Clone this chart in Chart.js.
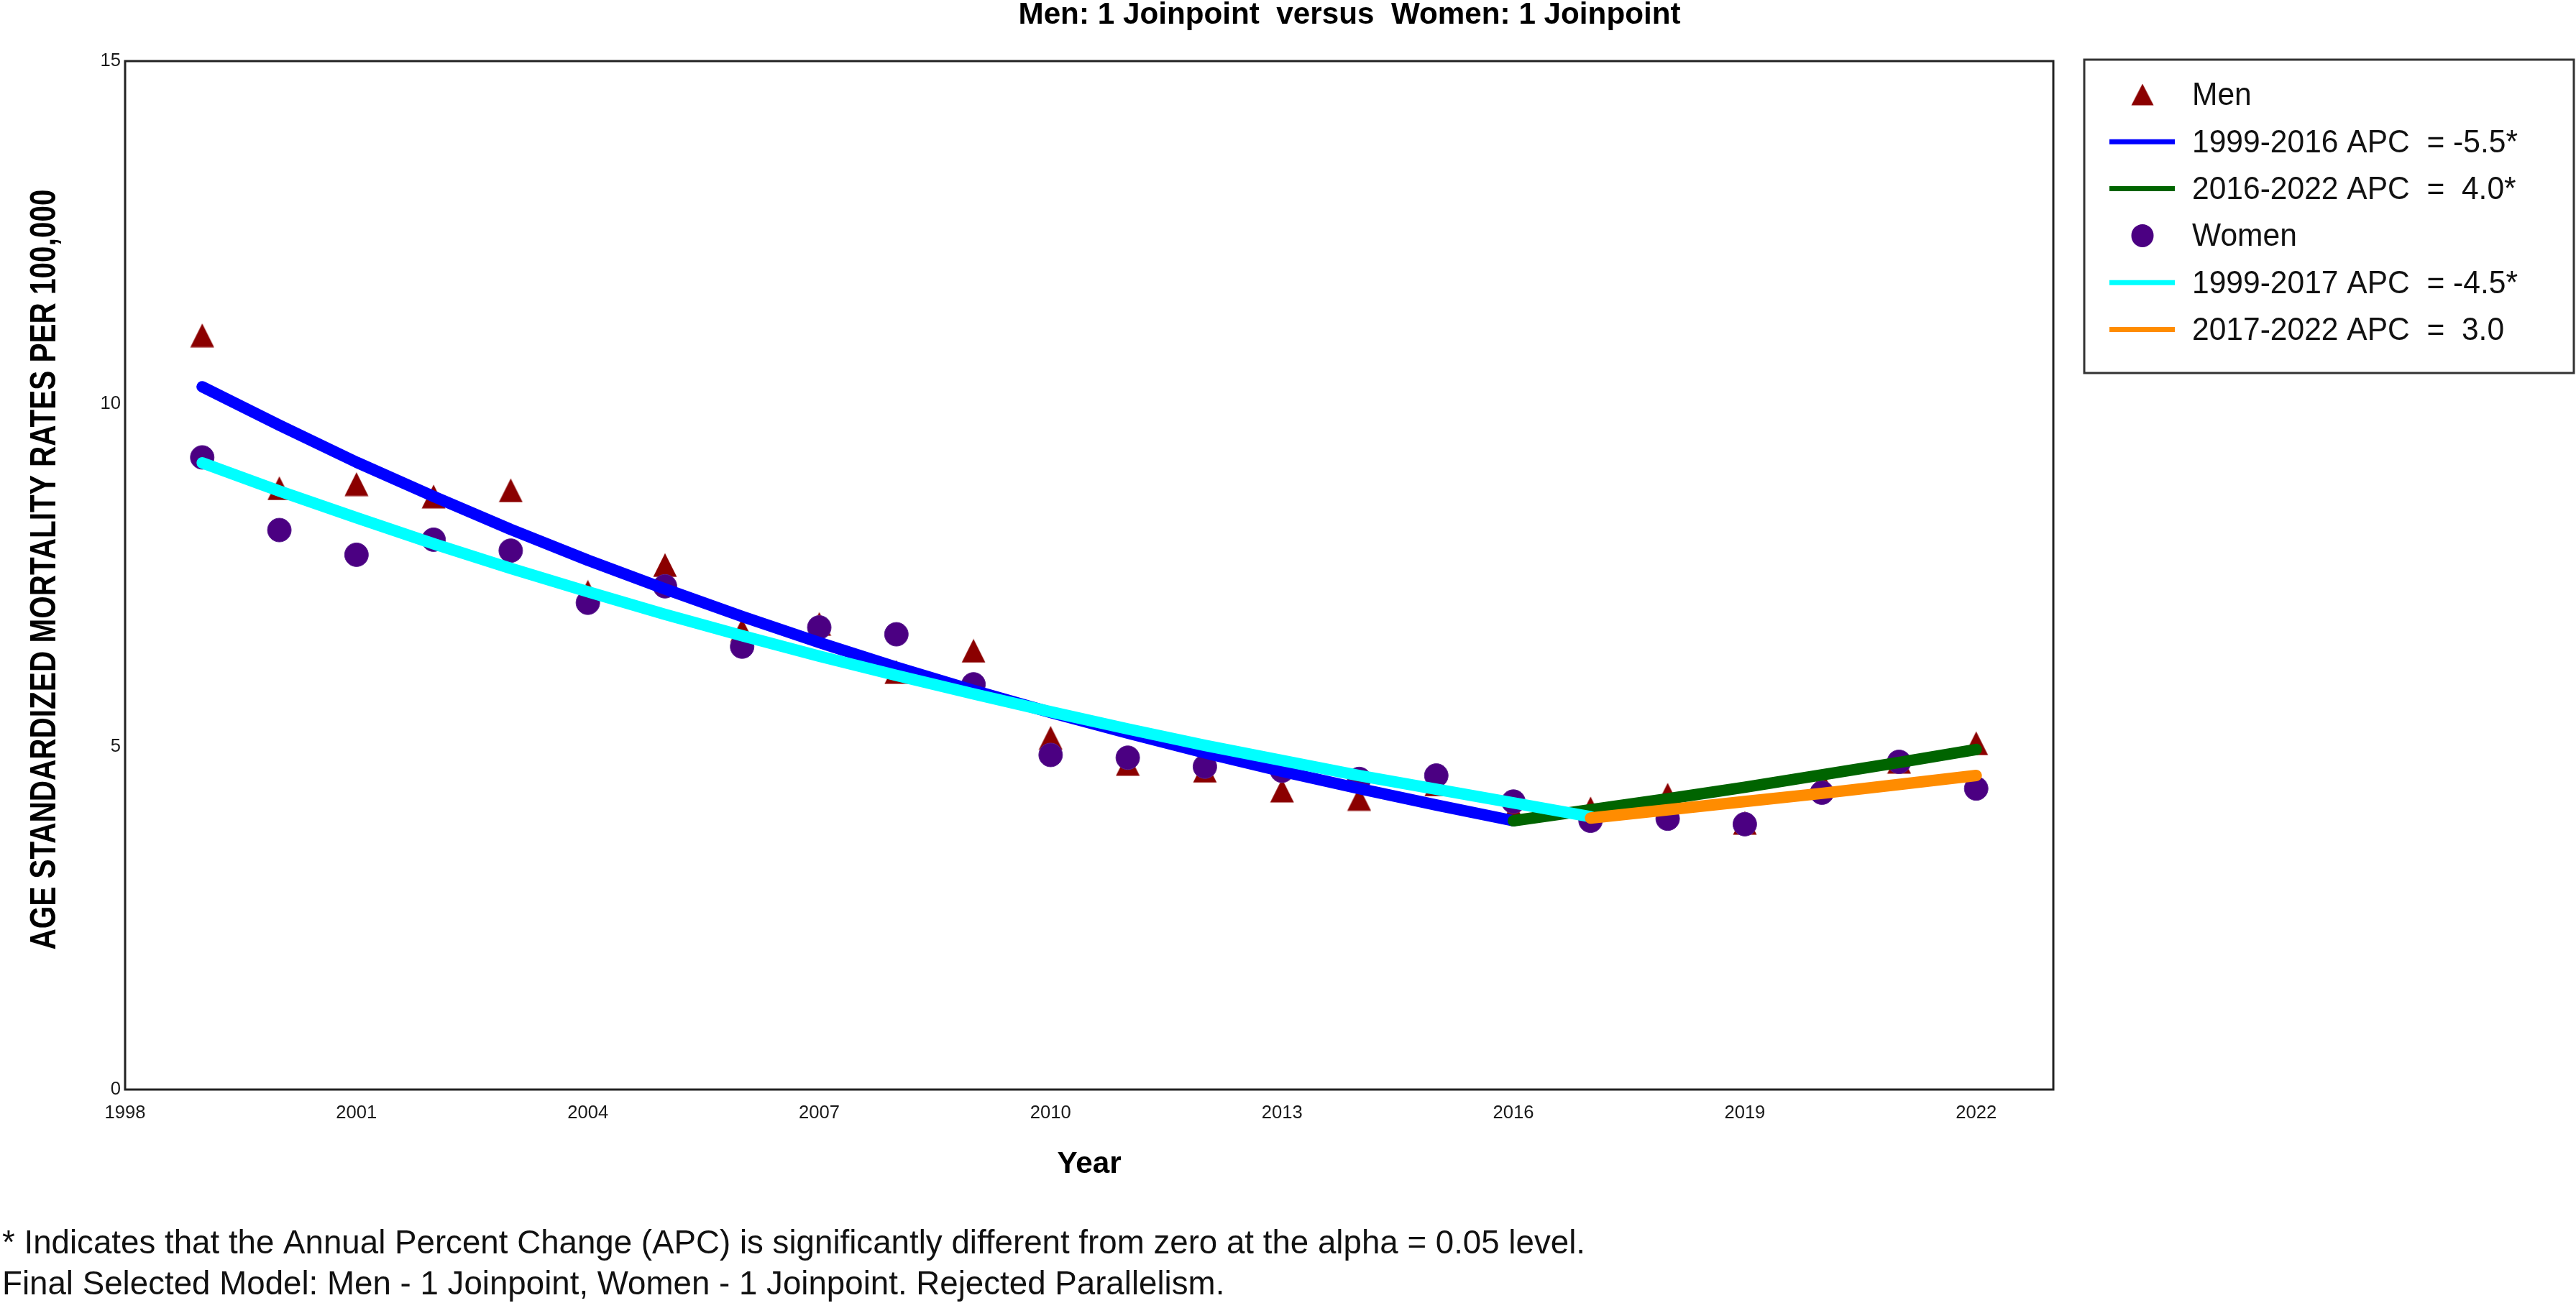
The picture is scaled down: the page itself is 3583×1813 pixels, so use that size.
<!DOCTYPE html>
<html>
<head>
<meta charset="utf-8">
<script src="https://cdn.jsdelivr.net/npm/chart.js@4.4.1/dist/chart.umd.min.js"></script>
<style>
html,body{margin:0;padding:0;background:#ffffff;overflow:hidden}
#wrap{width:3583px;height:1813px;position:relative;background:#fff}
</style>
</head>
<body>
<div id="wrap"><canvas id="c" width="3583" height="1813" style="width:3583px;height:1813px"></canvas></div>
<script>
// ---------------- data ----------------
const years = [1999,2000,2001,2002,2003,2004,2005,2006,2007,2008,2009,2010,2011,2012,2013,2014,2015,2016,2017,2018,2019,2020,2021,2022];
const menRates   = [11.00,8.77,8.83,8.65,8.74,7.26,7.65,6.70,6.79,6.09,6.40,5.13,4.75,4.65,4.36,4.24,4.45,4.05,4.10,4.30,3.89,4.49,4.78,5.05];
const womenRates = [9.22,8.16,7.80,8.02,7.86,7.10,7.34,6.46,6.74,6.64,5.91,4.88,4.84,4.71,4.65,4.53,4.58,4.20,3.92,3.95,3.87,4.33,4.78,4.39];

const menSeg1Years = [1999,2000,2001,2002,2003,2004,2005,2006,2007,2008,2009,2010,2011,2012,2013,2014,2015,2016];
const menSeg1Fit   = [10.25,9.69,9.15,8.65,8.17,7.72,7.30,6.90,6.52,6.16,5.82,5.50,5.20,4.91,4.64,4.39,4.15,3.92];
const menSeg2Years = [2016,2017,2018,2019,2020,2021,2022];
const menSeg2Fit   = [3.92,4.08,4.24,4.41,4.59,4.77,4.96];
const womenSeg1Years = [1999,2000,2001,2002,2003,2004,2005,2006,2007,2008,2009,2010,2011,2012,2013,2014,2015,2016,2017];
const womenSeg1Fit   = [9.14,8.73,8.34,7.96,7.60,7.26,6.93,6.62,6.32,6.04,5.77,5.51,5.26,5.02,4.80,4.58,4.38,4.18,3.98];
const womenSeg2Years = [2017,2018,2019,2020,2021,2022];
const womenSeg2Fit   = [3.96,4.08,4.20,4.32,4.45,4.58];

const seriesLabels = ['Men','1999-2016 APC  = -5.5*','2016-2022 APC  =  4.0*','Women','1999-2017 APC  = -4.5*','2017-2022 APC  =  3.0'];
const xTickValues = [1998,2001,2004,2007,2010,2013,2016,2019,2022];
const yTickValues = [0,5,10,15];
const titleText = 'Men: 1 Joinpoint  versus  Women: 1 Joinpoint';
const xAxisTitle = 'Year';
const yAxisTitle = 'AGE STANDARDIZED MORTALITY RATES PER 100,000';
const footnoteLines = [
  '* Indicates that the Annual Percent Change (APC) is significantly different from zero at the alpha = 0.05 level.',
  'Final Selected Model: Men - 1 Joinpoint, Women - 1 Joinpoint. Rejected Parallelism.'
];

// ---------------- fonts ----------------
const FAM = '"Liberation Sans", Arial, sans-serif';
const mctx = document.createElement('canvas').getContext('2d');
function fitSize(text, width, weight){
  mctx.font = (weight||'normal')+' 100px '+FAM;
  return 100*width/mctx.measureText(text).width;
}
function squeeze(text, size, width, weight){
  mctx.font = (weight||'normal')+' '+size+'px '+FAM;
  return Math.min(1, width/mctx.measureText(text).width);
}
const tickSize   = fitSize('1998', 57, 'normal');
const titleSize  = fitSize(titleText, 921, 'bold');
const legendSize = 45, legendSx = squeeze(seriesLabels[1], legendSize, 453, 'normal');
const footSize   = 47, footSx   = squeeze(footnoteLines[0], footSize, 2202, 'normal');
const ySize      = 50, ySx      = squeeze(yAxisTitle, ySize, 1058, 'bold');

function drawText(ctx, text, x, y, sx, rot){
  ctx.save(); ctx.translate(x, y); if (rot) ctx.rotate(rot); ctx.scale(sx, 1);
  ctx.fillText(text, 0, 0); ctx.restore();
}

// ---------------- marker images ----------------
const triImg = document.createElement('canvas');
triImg.width = 34; triImg.height = 34;
(function(){
  const c = triImg.getContext('2d');
  c.fillStyle = '#8B0000';
  c.beginPath(); c.moveTo(17,0.5); c.lineTo(33.5,33.5); c.lineTo(0.5,33.5); c.closePath(); c.fill();
})();

const pts = (xs, ys) => xs.map((x,i)=>({x:x, y:ys[i]}));

const lineStyle = (color, order) => ({
  showLine:true, pointRadius:0, borderWidth:16, borderColor:color, backgroundColor:color,
  borderCapStyle:'round', borderJoinStyle:'round', fill:false, tension:0, order:order
});

const datasets = [
  Object.assign({label:seriesLabels[0], data:pts(years,menRates), pointStyle:triImg, pointRadius:17,
    backgroundColor:'#8B0000', borderColor:'#8B0000', showLine:false, order:5}),
  Object.assign({label:seriesLabels[1], data:pts(menSeg1Years,menSeg1Fit)}, lineStyle('#0000FF',3)),
  Object.assign({label:seriesLabels[2], data:pts(menSeg2Years,menSeg2Fit)}, lineStyle('#006400',2)),
  Object.assign({label:seriesLabels[3], data:pts(years,womenRates), pointStyle:'circle', pointRadius:16.5,
    backgroundColor:'#4B0082', borderColor:'#5B2090', borderWidth:1, showLine:false, order:4}),
  Object.assign({label:seriesLabels[4], data:pts(womenSeg1Years,womenSeg1Fit)}, lineStyle('#00FFFF',1)),
  Object.assign({label:seriesLabels[5], data:pts(womenSeg2Years,womenSeg2Fit)}, lineStyle('#FF8C00',0))
];

// ---------------- decorations plugin: frame, title, legend, y title, footnotes ----------------
const deco = {
  id:'deco',
  afterDraw(chart){
    const ctx = chart.ctx, a = chart.chartArea;
    ctx.save();
    // plot frame
    ctx.strokeStyle = '#222'; ctx.lineWidth = 3;
    ctx.strokeRect(a.left, a.top, a.right - a.left, a.bottom - a.top);

    // legend box
    const L = a.right + 43, T = a.top - 2, W = 681, H = 436;
    ctx.strokeStyle = '#333'; ctx.lineWidth = 3;
    ctx.strokeRect(L, T, W, H);
    ctx.font = legendSize + 'px ' + FAM;
    ctx.textAlign = 'left'; ctx.textBaseline = 'middle';
    chart.data.datasets.forEach((ds, i) => {
      const cy = T + 49 + i * 65.3;
      const cx = L + 81;
      if (ds.showLine) {
        ctx.strokeStyle = ds.borderColor; ctx.lineWidth = 7; ctx.lineCap = 'butt';
        ctx.beginPath(); ctx.moveTo(L + 35, cy); ctx.lineTo(L + 126, cy); ctx.stroke();
      } else if (ds.pointStyle === 'circle') {
        ctx.fillStyle = ds.backgroundColor;
        ctx.beginPath(); ctx.ellipse(cx, cy, 15.5, 16, 0, 0, Math.PI*2); ctx.fill();
      } else {
        ctx.drawImage(ds.pointStyle, cx - 16, cy - 16, 32, 31);
      }
      ctx.fillStyle = '#111';
      drawText(ctx, ds.label, L + 150, cy + 2, legendSx);
    });

    // main title
    ctx.fillStyle = '#000';
    ctx.font = 'bold ' + titleSize.toFixed(2) + 'px ' + FAM;
    ctx.textAlign = 'center'; ctx.textBaseline = 'alphabetic';
    ctx.fillText(titleText, (a.left + L + W) / 2, 33);

    // y axis title (rotated)
    ctx.font = 'bold ' + ySize + 'px ' + FAM;
    ctx.textAlign = 'center'; ctx.textBaseline = 'middle';
    drawText(ctx, yAxisTitle, 63, (a.top + a.bottom) / 2 - 8, ySx, -Math.PI / 2);

    // footnotes
    ctx.font = footSize + 'px ' + FAM;
    ctx.textAlign = 'left'; ctx.textBaseline = 'alphabetic';
    ctx.fillStyle = '#111';
    drawText(ctx, footnoteLines[0], 3, 1744, footSx);
    drawText(ctx, footnoteLines[1], 3, 1801, footSx);
    ctx.restore();
  }
};

new Chart(document.getElementById('c'), {
  type:'scatter',
  data:{datasets:datasets},
  options:{
    responsive:false, animation:false, devicePixelRatio:1, events:[],
    layout:{padding:{left:0, top:85, right:727, bottom:147}},
    plugins:{legend:{display:false}, title:{display:false}, tooltip:{enabled:false}},
    scales:{
      x:{
        type:'linear', min:1998, max:2023,
        afterBuildTicks:(s)=>{ s.ticks = xTickValues.map(v=>({value:v})); },
        afterFit:(s)=>{ s.height = 150; },
        grid:{display:false, drawTicks:false}, border:{display:false},
        ticks:{font:{family:FAM, size:tickSize}, color:'#1a1a1a', padding:18, maxRotation:0, autoSkip:false, callback:(v)=>String(v)},
        title:{display:true, text:xAxisTitle, color:'#000', font:{family:FAM, size:titleSize, weight:'bold'}, padding:{top:0, bottom:20}}
      },
      y:{
        type:'linear', min:0, max:15,
        afterBuildTicks:(s)=>{ s.ticks = yTickValues.map(v=>({value:v})); },
        afterFit:(s)=>{ s.width = 174; },
        grid:{display:false, drawTicks:false}, border:{display:false},
        ticks:{font:{family:FAM, size:tickSize}, color:'#1a1a1a', padding:6, callback:(v)=>String(v)},
        title:{display:false, text:yAxisTitle}
      }
    }
  },
  plugins:[deco]
});
</script>
</body>
</html>
